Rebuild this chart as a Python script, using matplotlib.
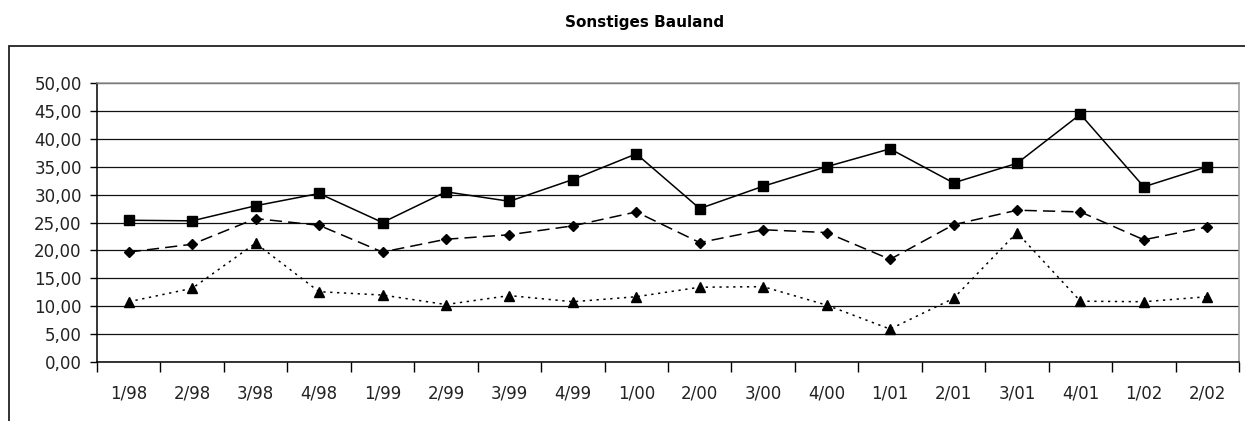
import numpy as np
import matplotlib.pyplot as plt
from matplotlib.patches import Rectangle

quarters = ['1/98', '2/98', '3/98', '4/98', '1/99', '2/99', '3/99', '4/99', '1/00',
            '2/00', '3/00', '4/00', '1/01', '2/01', '3/01', '4/01', '1/02', '2/02']
square_vals = [25.4, 25.3, 28.0, 30.2, 25.0, 30.5, 28.8, 32.7, 37.3,
               27.5, 31.5, 35.0, 38.2, 32.1, 35.6, 44.4, 31.4, 35.0]
diamond_vals = [19.7, 21.1, 25.7, 24.5, 19.7, 22.0, 22.8, 24.4, 26.9,
                21.4, 23.7, 23.2, 18.4, 24.6, 27.2, 26.9, 21.9, 24.2]
triangle_vals = [10.8, 13.2, 21.3, 12.6, 12.0, 10.3, 11.9, 10.8, 11.7,
                 13.4, 13.5, 10.2, 5.9, 11.4, 23.2, 10.9, 10.8, 11.7]
y_ticks = np.arange(0, 51, 5)

plt.rcParams['font.family'] = ['DejaVu Sans']

fig = plt.figure(figsize=(12.45, 4.21), dpi=100)
ax = fig.add_axes([97 / 1245, 1 - 362 / 421, (1239 - 97) / 1245, (362 - 83) / 421])

# outer chart frame (cut off at right and bottom)
fig.patches.append(Rectangle((9 / 1245, -0.1), 1.2, 1 - 46 / 421 + 0.1,
                             transform=fig.transFigure, fill=False,
                             edgecolor='#222222', linewidth=1.3))

x = np.arange(len(quarters))
ax.plot(x, square_vals, color='black', linewidth=1.1, linestyle='-',
        marker='s', markersize=7)
ax.plot(x, diamond_vals, color='black', linewidth=1.1, linestyle=(0, (8, 4)),
        marker='D', markersize=5)
ax.plot(x, triangle_vals, color='black', linewidth=1.1, linestyle=(0, (1.5, 3)),
        marker='^', markersize=7)

ax.set_xlim(-0.5, len(quarters) - 0.5)
ax.set_ylim(0, 50)
ax.set_yticks(y_ticks)
ax.set_yticklabels([f'{v:.2f}'.replace('.', ',') for v in y_ticks])
ax.yaxis.grid(True, color='#111111', linewidth=0.9)
ax.set_axisbelow(True)

ax.set_xticks(x)
ax.set_xticklabels(quarters)
ax.set_xticks(np.arange(-0.5, len(quarters), 1), minor=True)
ax.tick_params(axis='x', which='major', length=0, pad=16, labelsize=12,
               labelcolor='#222222')
ax.tick_params(axis='x', which='minor', length=7, width=1, direction='out')
ax.tick_params(axis='y', length=5, width=1, direction='out', pad=6, labelsize=12,
               labelcolor='#222222')

for s in ['left', 'bottom']:
    ax.spines[s].set_color('black')
    ax.spines[s].set_linewidth(1.1)
for s in ['top', 'right']:
    ax.spines[s].set_color('#999999')
    ax.spines[s].set_linewidth(1.1)

fig.text(645 / 1245, 1 - 22 / 421, 'Sonstiges Bauland', ha='center', va='center',
         fontsize=11, fontweight='bold')

fig.savefig('out.png', dpi=100)
